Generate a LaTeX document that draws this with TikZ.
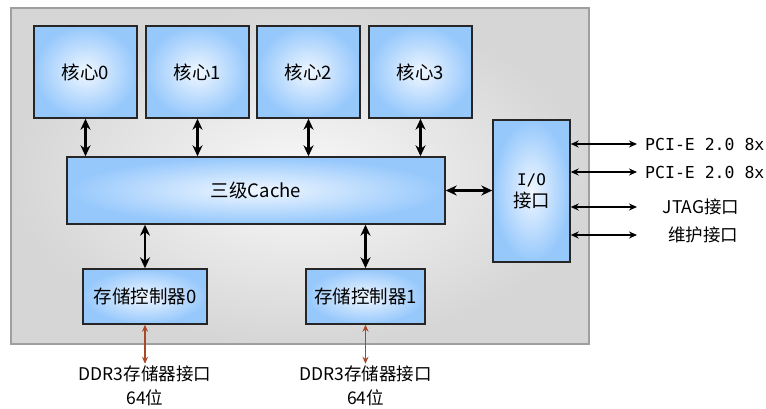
\documentclass[tikz,border=0pt]{standalone}
\usepackage{fontspec}
\newfontfamily\cjk{Noto Sans CJK SC}
\newfontfamily\pcifont{DejaVu Sans Mono}
\usetikzlibrary{arrows.meta,positioning}
\definecolor{boxblue}{RGB}{150,200,252}
\definecolor{boxcore}{RGB}{240,247,255}
\definecolor{chipgray}{RGB}{214,214,214}
\definecolor{ddrbrown}{RGB}{170,72,42}
\begin{document}
\begin{tikzpicture}[x=1pt,y=-1pt]

  \tikzstyle{block} = [draw=black!85, line width=1.4, inner color=boxcore, outer color=boxblue,
                       font=\cjk\fontsize{18.5}{22}\selectfont, align=center, inner sep=0]
  \tikzstyle{bus} = [line width=2.4, {Stealth[length=11,width=10]}-{Stealth[length=11,width=10]}]
  \tikzstyle{link} = [line width=1.3, {Stealth[length=8,width=7]}-{Stealth[length=8,width=7]}]
  \tikzstyle{ddr} = [line width=1.4, ddrbrown, {Stealth[length=7,width=6]}-{Stealth[length=7,width=6]}]

  \useasboundingbox (0,0) rectangle (766,408);

  \node[draw=gray!75, line width=1.4, inner color=gray!5, outer color=chipgray,
        minimum width=578, minimum height=336] (chip) at (300,176) {};

  \node[block, minimum width=103, minimum height=92] (core0) at (85.5,72) {核心0};
  \node[block, minimum width=103, minimum height=92] (core1) at (197.5,72) {核心1};
  \node[block, minimum width=103, minimum height=92] (core2) at (308.5,72) {核心2};
  \node[block, minimum width=103, minimum height=92] (core3) at (420.5,72) {核心3};

  \node[block, minimum width=378, minimum height=67] (cache) at (256,190.5) {三级Cache};
  \node[block, minimum width=77, minimum height=142] (io) at (531.5,191) {{\pcifont\fontsize{16}{20}\selectfont I/O}\\接口};

  \node[block, minimum width=124, minimum height=55] (mc0) at (145,296.5) {存储控制器0};
  \node[block, minimum width=119, minimum height=55] (mc1) at (365.5,296.5) {存储控制器1};

  \node[align=center, inner sep=2, font=\cjk\fontsize{17.5}{24}\selectfont] (ddr0) at (145,386) {DDR3存储器接口\\64位};
  \node[align=center, inner sep=2, font=\cjk\fontsize{17.5}{24}\selectfont] (ddr1) at (365.5,386) {DDR3存储器接口\\64位};

  % core <-> cache
  \draw[bus] (core0) -- (core0 |- cache.north);
  \draw[bus] (core1) -- (core1 |- cache.north);
  \draw[bus] (core2) -- (core2 |- cache.north);
  \draw[bus] (core3) -- (core3 |- cache.north);

  % cache <-> memory controllers and I/O
  \draw[bus] (mc0) -- (mc0 |- cache.south);
  \draw[bus] (mc1) -- (mc1 |- cache.south);
  \draw[bus] (cache) -- (cache -| io.west);

  \draw[ddr] (mc0) -- (ddr0);
  \draw[ddr] (mc1) -- (ddr1);

  % external interfaces
  \coordinate (p1) at (637,144);
  \coordinate (p2) at (637,172);
  \coordinate (p3) at (637,207);
  \coordinate (p4) at (637,235);

  \node[anchor=west, inner sep=0, font=\pcifont\fontsize{16.5}{20}\selectfont] (pcie0) at (645,144) {PCI-E 2.0 8x};
  \node[anchor=west, inner sep=0, font=\pcifont\fontsize{16.5}{20}\selectfont] (pcie1) at (645,172) {PCI-E 2.0 8x};
  \node[inner sep=0, font=\cjk\fontsize{17.5}{20}\selectfont] (jtag) at (701,207) {JTAG接口};
  \node[inner sep=0, font=\cjk\fontsize{17.5}{20}\selectfont] (maint) at (703,235) {维护接口};

  \draw[link] (io.east |- p1) -- (p1);
  \draw[link] (io.east |- p2) -- (p2);
  \draw[link] (io.east |- p3) -- (p3);
  \draw[link] (io.east |- p4) -- (p4);

\end{tikzpicture}
\end{document}
